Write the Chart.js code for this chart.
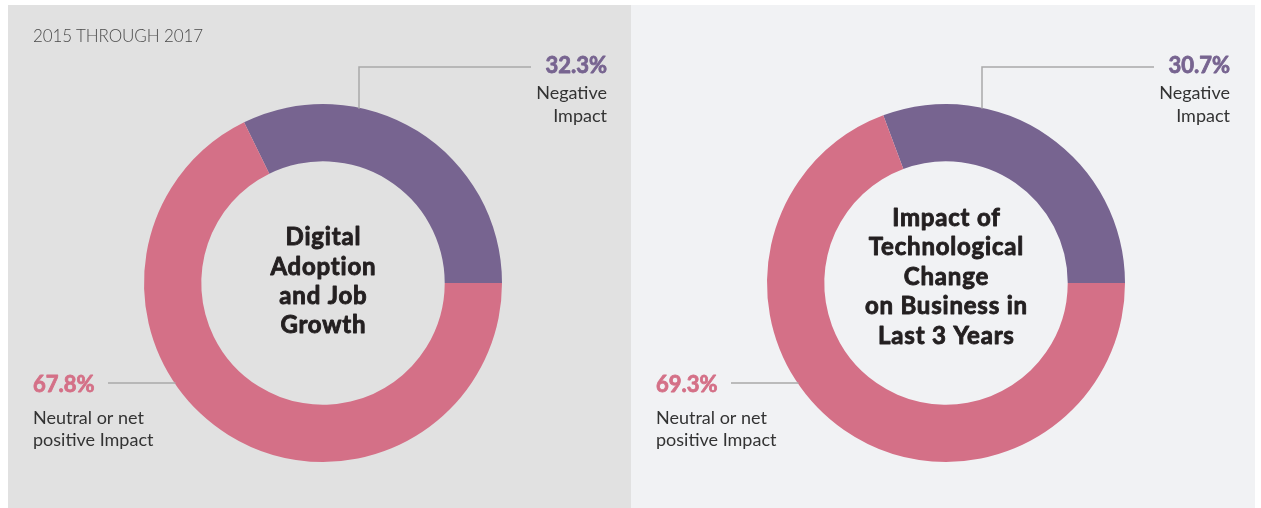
<!DOCTYPE html>
<html>
<head>
<meta charset="utf-8">
<script src="https://cdn.jsdelivr.net/npm/chart.js@4"></script>
<style>
  html, body { margin: 0; padding: 0; background: #ffffff; }
  body { width: 1261px; height: 508px; position: relative; overflow: hidden; font-family: Lato, "Open Sans", sans-serif; }
  .panel { position: absolute; top: 5px; height: 503px; }
  #p1 { left: 8px; width: 623px; background: #e1e1e1; }
  #p2 { left: 631px; width: 624px; background: #f1f2f4; }
  .panel canvas { position: absolute; left: 0; top: 0; }
  #sub { position: absolute; left: 25px; top: 20px; font-size: 17px; font-weight: 300; color: #4a4a4a; letter-spacing: -0.1px; }
</style>
</head>
<body>
<div class="panel" id="p1"><canvas id="c1" width="623" height="503"></canvas><div id="sub">2015 THROUGH 2017</div></div>
<div class="panel" id="p2"><canvas id="c2" width="624" height="503"></canvas></div>
<script>
// ---- data ----
const categories = ["Negative Impact", "Neutral or net positive Impact"];
const chart1Values = [32.3, 67.8];
const chart2Values = [30.7, 69.3];
const chart1Title = ["Digital", "Adoption", "and Job", "Growth"];
const chart2Title = ["Impact of", "Technological", "Change", "on Business in", "Last 3 Years"];
const topLabel = ["Negative", "Impact"];
const bottomLabel = ["Neutral or net", "positive Impact"];
const colors = ["#776490", "#d47087"];

function startAngle(values) {
  const total = values.reduce((a, b) => a + b, 0);
  return 90 - 360 * values[0] / total; // first slice ends at 3 o'clock
}

function heavyText(ctx, t, x, y, color, w) {
  ctx.fillStyle = color;
  ctx.strokeStyle = color;
  ctx.lineWidth = w;
  ctx.lineJoin = 'round';
  ctx.strokeText(t, x, y);
  ctx.fillText(t, x, y);
}

const decorPlugin = {
  id: 'decor',
  afterDraw(chart) {
    const o = chart.options.plugins.decor;
    const arc = chart.getDatasetMeta(0).data[0];
    const cx = arc.x, cy = arc.y, R = arc.outerRadius;
    const ctx = chart.ctx;
    ctx.save();
    // connector lines
    ctx.strokeStyle = '#a9a9a9';
    ctx.lineWidth = 1.5;
    const vx = cx + 36;
    ctx.beginPath();
    ctx.moveTo(cx + 208, cy - 216);
    ctx.lineTo(vx, cy - 216);
    ctx.lineTo(vx, cy - Math.sqrt(R * R - 36 * 36) + 1);
    ctx.stroke();
    const ly = cy + 100;
    ctx.beginPath();
    ctx.moveTo(cx - 215, ly);
    ctx.lineTo(cx - Math.sqrt(R * R - 100 * 100) + 1, ly);
    ctx.stroke();
    // top label
    ctx.textBaseline = 'middle';
    ctx.textAlign = 'right';
    ctx.font = 'bold 22px Lato';
    heavyText(ctx, o.values[0].toFixed(1) + '%', cx + 284, cy - 217, colors[0], 0.8);
    ctx.fillStyle = '#333333';
    ctx.font = '400 18px Lato';
    ctx.fillText(topLabel[0], cx + 284, cy - 190);
    ctx.fillText(topLabel[1], cx + 284, cy - 167);
    // bottom label
    ctx.textAlign = 'left';
    ctx.font = 'bold 22px Lato';
    heavyText(ctx, o.values[1].toFixed(1) + '%', cx - 290, cy + 102, colors[1], 0.8);
    ctx.fillStyle = '#333333';
    ctx.font = '400 18px Lato';
    ctx.fillText(bottomLabel[0], cx - 290, cy + 135);
    ctx.fillText(bottomLabel[1], cx - 290, cy + 157);
    // center title
    ctx.textAlign = 'center';
    ctx.font = 'bold 24px Lato';
    if ('letterSpacing' in ctx) ctx.letterSpacing = '0.8px';
    const lines = o.title;
    const lh = 29.4;
    const y0 = cy + o.titleShift - (lines.length - 1) * lh / 2;
    lines.forEach((t, i) => heavyText(ctx, t, cx + 0.4, y0 + i * lh, '#231f20', 0.9));
    ctx.restore();
  }
};

function makeChart(id, values, title, width, titleShift) {
  const padL = 136, padT = 99, size = 358;
  return new Chart(document.getElementById(id), {
    type: 'doughnut',
    data: {
      labels: categories,
      datasets: [{
        data: values,
        backgroundColor: colors,
        borderWidth: 0,
        hoverOffset: 0
      }]
    },
    options: {
      responsive: false,
      animation: false,
      cutout: '68%',
      rotation: startAngle(values),
      layout: { padding: { left: padL, top: padT, right: width - padL - size, bottom: 503 - padT - size } },
      plugins: {
        legend: { display: false },
        tooltip: { enabled: false },
        decor: { values: values, title: title, titleShift: titleShift }
      }
    },
    plugins: [decorPlugin]
  });
}

makeChart('c1', chart1Values, chart1Title, 623, -1.5);
makeChart('c2', chart2Values, chart2Title, 624, -6);
</script>
</body>
</html>
